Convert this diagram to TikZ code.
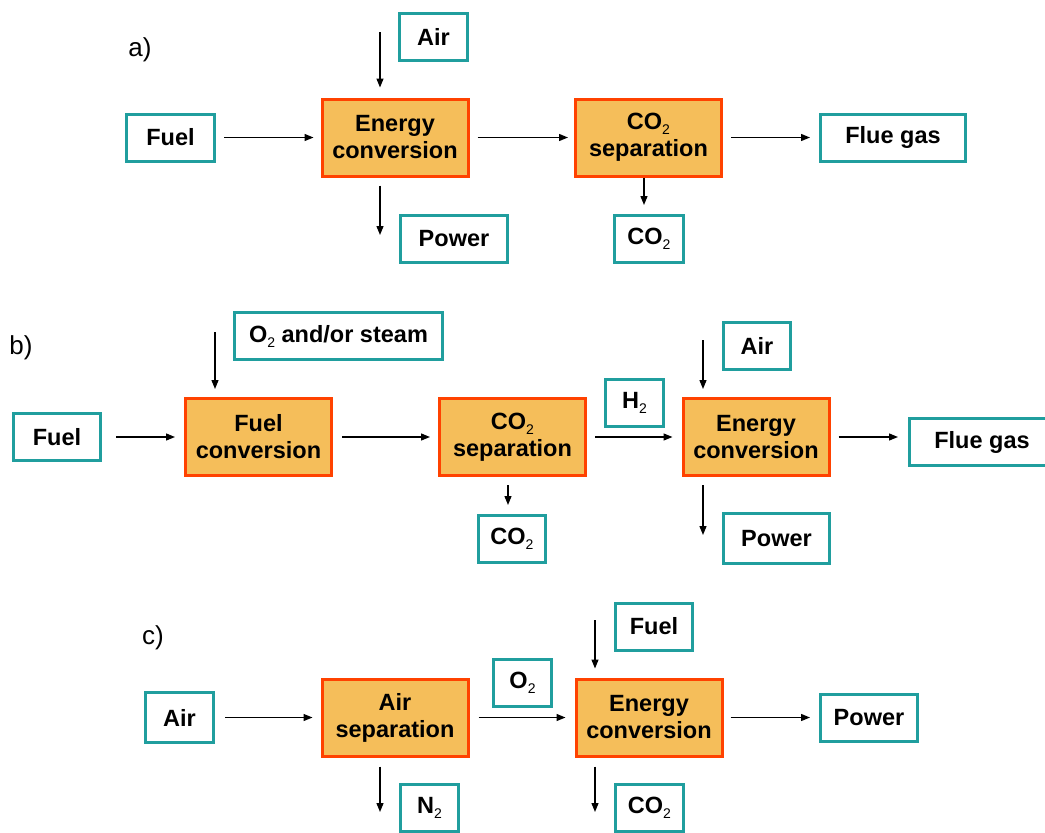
\documentclass[tikz,border=0pt]{standalone}
\usepackage{fontspec}
\setmainfont{Liberation Sans}
\usetikzlibrary{arrows.meta}

\definecolor{streamteal}{RGB}{32,158,158}
\definecolor{unitfill}{RGB}{245,190,90}
\definecolor{unitline}{RGB}{255,66,0}
\newcommand{\chemsub}[1]{\raisebox{-5pt}{\fontsize{14}{14}\selectfont\mdseries #1}}

\tikzset{
  stream/.style={draw=streamteal, fill=white, line width=3pt, inner sep=0pt,
    align=center, minimum height=47pt, font=\fontsize{23.5}{27}\selectfont\bfseries},
  unit/.style={draw=unitline, fill=unitfill, line width=3pt, inner sep=0pt,
    align=center, minimum width=146pt, minimum height=77pt,
    font=\fontsize{23.5}{27}\selectfont\bfseries},
  flow/.style={-{Triangle[length=9pt,width=7pt]}, line width=1.3pt},
  panel/.style={font=\fontsize{26}{26}\selectfont}
}

\begin{document}
\begin{tikzpicture}[x=1pt,y=-1pt]
    \useasboundingbox (0,0) rectangle (1045,833);

    % a) post-combustion
    \node[panel] (lbl-a) at (140,50) {a)};
    \node[stream, minimum width=68pt] (a-air) at (433.5,37) {Air};
    \node[stream, minimum width=88pt] (a-fuel) at (170.5,137.5) {Fuel};
    \node[unit] (a-ec) at (395,137.5) {Energy\\conversion};
    \node[stream, minimum width=107pt] (a-power) at (454,239) {Power};
    \node[unit] (a-cs) at (648.5,137.5) {CO\chemsub{2}\\separation};
    \node[stream, minimum width=69pt] (a-co2) at (649,238.5) {CO\chemsub{2}};
    \node[stream, minimum width=145pt] (a-flue) at (893,137.5) {Flue gas};

    \coordinate (a-airin) at (380,32);
    \coordinate (a-powout) at (380,235);
    \coordinate (a-co2out) at (644,205);

    \draw[flow, shorten >=10pt] (a-airin) -- (a-airin |- a-ec.north);
    \draw[flow, shorten <=8pt, shorten >=7pt] (a-fuel) -- (a-ec);
    \draw[flow, shorten <=8pt, shorten >=6pt] (a-ec) -- (a-cs);
    \draw[flow, shorten <=8pt, shorten >=9pt] (a-cs) -- (a-flue);
    \draw[flow, shorten <=8pt] (a-powout |- a-ec.south) -- (a-powout);
    \draw[flow] (a-co2out |- a-cs.south) -- (a-co2out);

    % b) pre-combustion
    \node[panel] (lbl-b) at (21,348) {b)};
    \node[stream, minimum width=208pt] (b-o2) at (338.5,336) {O\chemsub{2} and/or steam};
    \node[stream, minimum width=87pt] (b-fuel) at (57,437) {Fuel};
    \node[unit] (b-fc) at (258.5,437) {Fuel\\conversion};
    \node[unit] (b-cs) at (512.5,437) {CO\chemsub{2}\\separation};
    \node[stream, minimum width=67pt] (b-co2) at (512,538.5) {CO\chemsub{2}};
    \node[stream, minimum width=58pt] (b-h2) at (634.5,403) {H\chemsub{2}};
    \node[unit] (b-ec) at (756,437) {Energy\\conversion};
    \node[stream, minimum width=67pt] (b-air) at (757,345.5) {Air};
    \node[stream, minimum width=106pt, minimum height=50pt] (b-power) at (776.5,538.5) {Power};
    \node[stream, minimum width=145pt] (b-flue) at (982,442) {Flue gas};

    \coordinate (b-o2in) at (215,332);
    \coordinate (b-airin) at (703,340);
    \coordinate (b-co2out) at (508,505);
    \coordinate (b-powout) at (703,535);

    \draw[flow, shorten >=8pt] (b-o2in) -- (b-o2in |- b-fc.north);
    \draw[flow, shorten <=14pt, shorten >=9pt] (b-fuel) -- (b-fc);
    \draw[flow, shorten <=9pt, shorten >=8pt] (b-fc) -- (b-cs);
    \draw[flow, shorten <=8pt, shorten >=9pt] (b-cs) -- (b-ec);
    \draw[flow, shorten >=8pt] (b-airin) -- (b-airin |- b-ec.north);
    \draw[flow, shorten <=8pt, shorten >=10pt] (b-ec.east) -- (b-ec.east -| b-flue.west);
    \draw[flow, shorten <=8pt] (b-co2out |- b-cs.south) -- (b-co2out);
    \draw[flow, shorten <=8pt] (b-powout |- b-ec.south) -- (b-powout);

    % c) oxy-fuel
    \node[panel] (lbl-c) at (153,638) {c)};
    \node[stream, minimum width=68pt, minimum height=50pt] (c-air) at (179.5,717.5) {Air};
    \node[unit] (c-as) at (395,717.5) {Air\\separation};
    \node[stream, minimum width=58pt] (c-o2) at (522.5,683) {O\chemsub{2}};
    \node[stream, minimum width=58pt] (c-n2) at (429.5,808) {N\chemsub{2}};
    \node[unit] (c-ec) at (649,717.5) {Energy\\conversion};
    \node[stream, minimum width=77pt] (c-fuel) at (654,626.5) {Fuel};
    \node[stream, minimum width=97pt] (c-power) at (869,717.5) {Power};
    \node[stream, minimum width=68pt] (c-co2) at (649.5,808) {CO\chemsub{2}};

    \coordinate (c-fuelin) at (595,620);
    \coordinate (c-n2out) at (380,812);
    \coordinate (c-co2out) at (595,812);

    \draw[flow, shorten <=10pt, shorten >=8pt] (c-air) -- (c-as);
    \draw[flow, shorten <=9pt, shorten >=9pt] (c-as) -- (c-ec);
    \draw[flow, shorten >=9pt] (c-fuelin) -- (c-fuelin |- c-ec.north);
    \draw[flow, shorten <=7pt, shorten >=9pt] (c-ec) -- (c-power);
    \draw[flow, shorten <=9pt] (c-n2out |- c-as.south) -- (c-n2out);
    \draw[flow, shorten <=9pt] (c-co2out |- c-ec.south) -- (c-co2out);
\end{tikzpicture}
\end{document}
